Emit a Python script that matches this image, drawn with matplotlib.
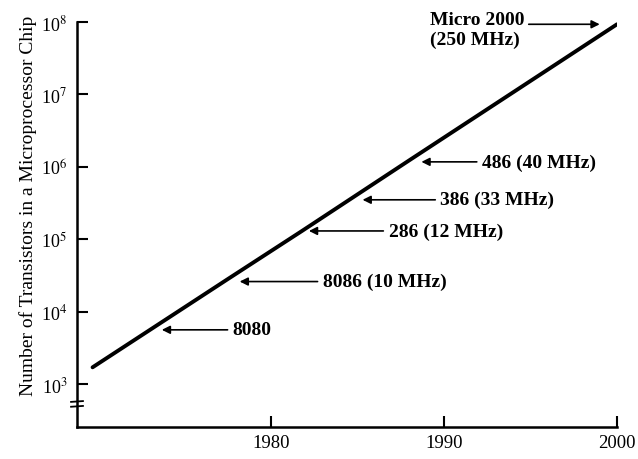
import numpy as np
import matplotlib
matplotlib.use('Agg')
import matplotlib.pyplot as plt

plt.rcParams['font.family'] = ['Liberation Serif', 'DejaVu Serif']
plt.rcParams['mathtext.fontset'] = 'stix'

# linea de tendencia
anios = [1969.7, 1977.5, 1981.8, 1988.0, 2000.0]
transistores = [1.7e3, 2.8e4, 1.3e5, 1.23e6, 9.3e7]

# anotaciones: texto, punta de la flecha (anio, valor), inicio del texto (anio)
chips = ['8080', '8086 (10 MHz)', '286 (12 MHz)', '386 (33 MHz)',
         '486 (40 MHz)', 'Micro 2000\n(250 MHz)']
punta_anio = [1973.7, 1978.2, 1982.2, 1985.3, 1988.7, 1999.0]
punta_valor = [5.6e3, 2.6e4, 1.3e5, 3.5e5, 1.17e6, 9.3e7]
texto_anio = [1977.8, 1983.0, 1986.8, 1989.8, 1992.2, 1989.2]

xticks = [1980, 1990, 2000]
yticks = [1e3, 1e4, 1e5, 1e6, 1e7, 1e8]
ytick_labels = ['10$^3$', '10$^4$', '10$^5$', '10$^6$', '10$^7$', '10$^8$']

fig = plt.figure(figsize=(6.38, 4.6), dpi=100)
ax = fig.add_axes([77/638, 1-428/460, (617-77)/638, (428-23)/460])

ax.plot(anios, transistores, color='black', lw=2.8, solid_capstyle='round')
ax.set_yscale('log')
ax.set_xlim(1968.8, 2000)
ax.set_ylim(10**2.406, 1e8)

ax.set_xticks(xticks)
ax.set_xticklabels([str(a) for a in xticks], fontsize=13.5)
ax.set_yticks(yticks)
ax.set_yticklabels(ytick_labels, fontsize=13)
ax.minorticks_off()
ax.tick_params(direction='in', length=8, width=1.5)
ax.tick_params(axis='y', pad=7)
ax.tick_params(axis='x', pad=5)

for s in ['top', 'right']:
    ax.spines[s].set_visible(False)
for s in ['left', 'bottom']:
    ax.spines[s].set_linewidth(1.8)

ax.set_ylabel('Number of Transistors in a Microprocessor Chip', fontsize=14)
ax.yaxis.set_label_coords(-0.074, 0.548)

# marcas de corte del eje
for yb in [0.062, 0.050]:
    ax.plot([-0.011, 0.011], [yb, yb + 0.002], transform=ax.transAxes,
            color='black', lw=1.3, clip_on=False)

for i in range(len(chips)):
    if i == len(chips) - 1:
        ax.annotate('', xy=(punta_anio[i], punta_valor[i]),
                    xytext=(1994.9, punta_valor[i]),
                    arrowprops=dict(arrowstyle='-|>', color='black', lw=1.2,
                                    mutation_scale=12, shrinkA=0, shrinkB=0))
        ax.text(texto_anio[i], punta_valor[i] * 10**(13/72.4), chips[i], fontsize=14,
                fontweight='bold', ha='left', va='top', linespacing=1.2, clip_on=False)
    else:
        ax.annotate('', xy=(punta_anio[i], punta_valor[i]),
                    xytext=(texto_anio[i] - 0.3, punta_valor[i]),
                    arrowprops=dict(arrowstyle='-|>', color='black', lw=1.2,
                                    mutation_scale=12, shrinkA=0, shrinkB=0))
        ax.text(texto_anio[i], punta_valor[i], chips[i], fontsize=14,
                fontweight='bold', ha='left', va='center')

fig.savefig('out.png', dpi=100)
